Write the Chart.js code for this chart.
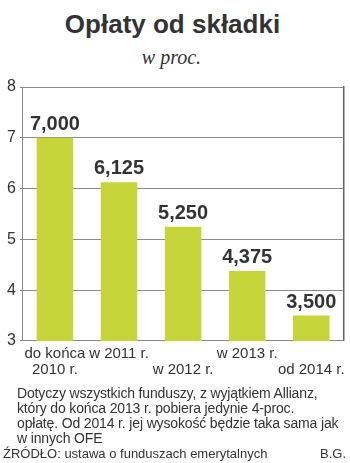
<!DOCTYPE html>
<html>
<head>
<meta charset="utf-8">
<script src="https://cdn.jsdelivr.net/npm/chart.js@4"></script>
<style>
  html, body { margin: 0; padding: 0; background: #fff; }
  body { width: 350px; height: 463px; position: relative; overflow: hidden; color: #333; }
  #wrap { position: absolute; left: 0; top: 0; width: 350px; height: 387px; }
  .tytul { position: absolute; left: 0; width: 345px; top: 9px; text-align: center;
           font: bold 26px "Liberation Sans", Arial, sans-serif; line-height: 30px; }
  .podtytul { position: absolute; left: 0; width: 343px; top: 45px; text-align: center;
              font: italic 20px "Liberation Serif", serif; line-height: 24px; }
  .uwaga { position: absolute; left: 17px; top: 386px; white-space: nowrap; letter-spacing: -0.15px;
           font: 14px "Liberation Sans Narrow", "Liberation Sans", sans-serif; line-height: 15px; }
  .zrodlo { position: absolute; left: 3px; top: 446px; white-space: nowrap;
            font: 13px "Liberation Sans Narrow", "Liberation Sans", sans-serif; }
  .autor { position: absolute; right: 4px; top: 446px;
           font: 13px "Liberation Sans Narrow", "Liberation Sans", sans-serif; }
</style>
</head>
<body>
<div class="tytul">Opłaty od składki</div>
<div class="podtytul">w proc.</div>
<div id="wrap"><canvas id="grafico"></canvas></div>
<div class="uwaga">Dotyczy wszystkich funduszy, z wyjątkiem Allianz,<br>który do końca 2013 r. pobiera jedynie 4-proc.<br>opłatę. Od 2014 r. jej wysokość będzie taka sama jak<br>w innych OFE</div>
<div class="zrodlo">ŹRÓDŁO: ustawa o funduszach emerytalnych</div>
<div class="autor">B.G.</div>
<script>
// Datos
const etiquetas = [
    ['do końca', '2010 r.'],
    ['w 2011 r.'],
    ['', 'w 2012 r.'],
    ['w 2013 r.'],
    ['', 'od 2014 r.']
];
const oplaty = [7.0, 6.125, 5.25, 4.375, 3.5];
const ejeY = [3, 4, 5, 6, 7, 8];

const colorBarra = '#c6d63a';
const colorTexto = '#333333';
const colorRejilla = '#8a8a8a';

// etiquetas encima de las barras
const valoresPlugin = {
    id: 'valores',
    afterDatasetsDraw(chart) {
        const ctx = chart.ctx;
        const meta = chart.getDatasetMeta(0);
        ctx.save();
        ctx.font = 'bold 20px "Liberation Sans", Arial, sans-serif';
        ctx.fillStyle = colorTexto;
        ctx.textAlign = 'center';
        ctx.textBaseline = 'alphabetic';
        meta.data.forEach((bar, i) => {
            const texto = oplaty[i].toFixed(3).replace('.', ',');
            ctx.fillText(texto, bar.x, bar.y - 8);
        });
        ctx.restore();
    }
};

const ctx = document.getElementById('grafico').getContext('2d');
window.graficaOplaty = new Chart(ctx, {
    type: 'bar',
    data: {
        labels: etiquetas,
        datasets: [{
            data: oplaty,
            backgroundColor: colorBarra,
            borderWidth: 0,
            barPercentage: 0.57,
            categoryPercentage: 1.0
        }]
    },
    options: {
        responsive: true,
        maintainAspectRatio: false,
        animation: false,
        layout: {
            padding: { top: 87, bottom: 4, left: 3, right: 4 }
        },
        plugins: {
            legend: { display: false },
            tooltip: { enabled: false },
            title: { display: false }
        },
        scales: {
            x: {
                grid: { display: false, drawTicks: false },
                border: { display: true, color: colorRejilla, width: 1 },
                ticks: {
                    color: colorTexto,
                    padding: 5,
                    maxRotation: 0,
                    autoSkip: false,
                    font: { family: '"Liberation Sans", Arial, sans-serif', size: 15, lineHeight: 1.07 }
                }
            },
            y: {
                min: ejeY[0],
                max: ejeY[ejeY.length - 1],
                afterBuildTicks: (eje) => { eje.ticks = ejeY.map(v => ({ value: v })); },
                grid: { color: colorRejilla, lineWidth: 1, tickLength: 3 },
                border: { display: true, color: colorRejilla, width: 1 },
                ticks: {
                    color: colorTexto,
                    padding: 4,
                    font: { family: '"Liberation Sans", Arial, sans-serif', size: 16 }
                }
            },
            y2: {
                position: 'right',
                min: ejeY[0],
                max: ejeY[ejeY.length - 1],
                grid: { display: false, drawTicks: false },
                border: { display: true, color: '#666666', width: 1.5 },
                ticks: { display: false }
            }
        }
    },
    plugins: [valoresPlugin]
});
</script>
</body>
</html>
